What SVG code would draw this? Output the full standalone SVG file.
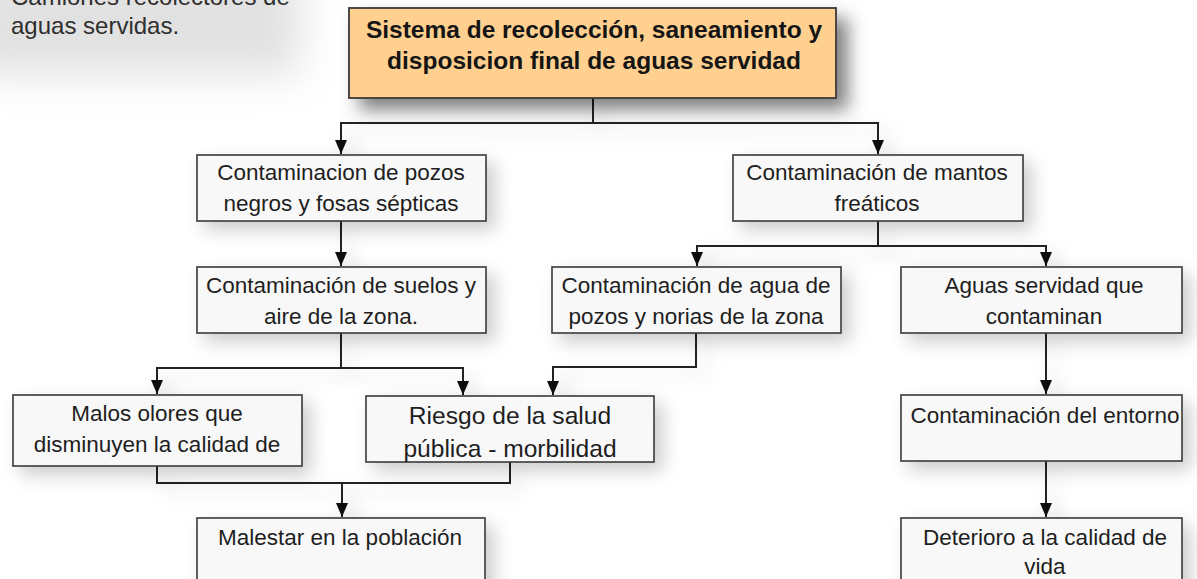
<svg xmlns="http://www.w3.org/2000/svg" width="1197" height="579" viewBox="0 0 1197 579">
<defs>
<style>
.box{fill:#f8f8f8;stroke:#3a3a3a;stroke-width:1.6}
.title{fill:#FFD08F;stroke:#3a3a3a;stroke-width:1.8}
.t{font-family:"Liberation Sans",Arial,sans-serif;font-size:22.5px;fill:#1e1e1e;text-anchor:middle}
.tb{font-family:"Liberation Sans",Arial,sans-serif;font-size:24.5px;font-weight:bold;fill:#151515;text-anchor:middle}
.tl{font-family:"Liberation Sans",Arial,sans-serif;font-size:24px;fill:#2e2e2e}
.conn path{fill:none;stroke:#222;stroke-width:2}
.big{font-size:24.6px}
</style>
<filter id="sh" x="-20%" y="-30%" width="150%" height="180%">
<feDropShadow dx="8" dy="8" stdDeviation="9" flood-color="#000" flood-opacity="0.2"/>
</filter>
<filter id="shT" x="-20%" y="-40%" width="150%" height="200%">
<feDropShadow dx="11" dy="11" stdDeviation="9" flood-color="#000" flood-opacity="0.5"/>
</filter>
<filter id="blur" x="-50%" y="-50%" width="200%" height="200%">
<feGaussianBlur stdDeviation="20"/>
</filter>
<marker id="arr" markerUnits="userSpaceOnUse" markerWidth="14" markerHeight="12" viewBox="0 0 14 12" refX="14" refY="6" orient="auto">
<path d="M0,0 L14,6 L0,12 z" fill="#111"/>
</marker>
</defs>
<rect width="1197" height="579" fill="#fff"/>
<rect x="-30" y="-40" width="330" height="115" fill="#aaa" opacity="0.35" filter="url(#blur)"/>
<g id="note">
<text class="tl" x="11" y="5">Camiones recolectores de</text>
<text class="tl" x="11" y="34">aguas servidas.</text>
</g>
<g class="conn" id="connectors" filter="url(#sh)">
<path d="M593 98 V123 H341 V154" marker-end="url(#arr)"/>
<path d="M593 123 H878 V154" marker-end="url(#arr)"/>
<path d="M341 221 V266" marker-end="url(#arr)"/>
<path d="M341 333 V368 H157 V394" marker-end="url(#arr)"/>
<path d="M341 368 H463 V395" marker-end="url(#arr)"/>
<path d="M878 221 V246 H697 V266" marker-end="url(#arr)"/>
<path d="M878 246 H1046 V266" marker-end="url(#arr)"/>
<path d="M696 333 V367 H553 V395" marker-end="url(#arr)"/>
<path d="M1046 333 V394" marker-end="url(#arr)"/>
<path d="M157 466 V483 H510 V462"/>
<path d="M342 483 V517" marker-end="url(#arr)"/>
<path d="M1046 461 V517" marker-end="url(#arr)"/>
</g>
<g id="n-title">
<rect class="title" x="349" y="8" width="487" height="90" filter="url(#shT)"/>
<text class="tb" x="594" y="38">Sistema de recolección, saneamiento y</text>
<text class="tb" x="594" y="69">disposicion final de aguas servidad</text>
</g>
<g id="n-pozos">
<rect class="box" x="197" y="155" width="289" height="66" filter="url(#sh)"/>
<text class="t" x="341" y="180">Contaminacion de pozos</text>
<text class="t" x="341" y="211">negros y fosas sépticas</text>
</g>
<g id="n-mantos">
<rect class="box" x="733" y="155" width="290" height="66" filter="url(#sh)"/>
<text class="t" x="877" y="180">Contaminación de mantos</text>
<text class="t" x="877" y="211">freáticos</text>
</g>
<g id="n-suelos">
<rect class="box" x="197" y="267" width="289" height="66" filter="url(#sh)"/>
<text class="t" x="341" y="293">Contaminación de suelos y</text>
<text class="t" x="341" y="324">aire de la zona.</text>
</g>
<g id="n-agua">
<rect class="box" x="552" y="267" width="289" height="66" filter="url(#sh)"/>
<text class="t" x="696" y="293">Contaminación de agua de</text>
<text class="t" x="696" y="324">pozos y norias de la zona</text>
</g>
<g id="n-aguas">
<rect class="box" x="901" y="267" width="281" height="66" filter="url(#sh)"/>
<text class="t" x="1044" y="293">Aguas servidad que</text>
<text class="t" x="1044" y="324">contaminan</text>
</g>
<g id="n-malos">
<rect class="box" x="13" y="395" width="289" height="71" filter="url(#sh)"/>
<text class="t" x="157" y="421">Malos olores que</text>
<text class="t" x="157" y="452">disminuyen la calidad de</text>
</g>
<g id="n-riesgo">
<rect class="box" x="366" y="396" width="288" height="66" filter="url(#sh)"/>
<text class="t big" x="510" y="424">Riesgo de la salud</text>
<text class="t big" x="510" y="457">pública - morbilidad</text>
</g>
<g id="n-entorno">
<rect class="box" x="901" y="395" width="281" height="66" filter="url(#sh)"/>
<text class="t" x="1045" y="423">Contaminación del entorno</text>
</g>
<g id="n-malestar">
<rect class="box" x="197" y="518" width="288" height="80" filter="url(#sh)"/>
<text class="t" x="340" y="545">Malestar en la población</text>
</g>
<g id="n-deterioro">
<rect class="box" x="901" y="518" width="281" height="80" filter="url(#sh)"/>
<text class="t" x="1045" y="545">Deterioro a la calidad de</text>
<text class="t" x="1045" y="574">vida</text>
</g>
</svg>
